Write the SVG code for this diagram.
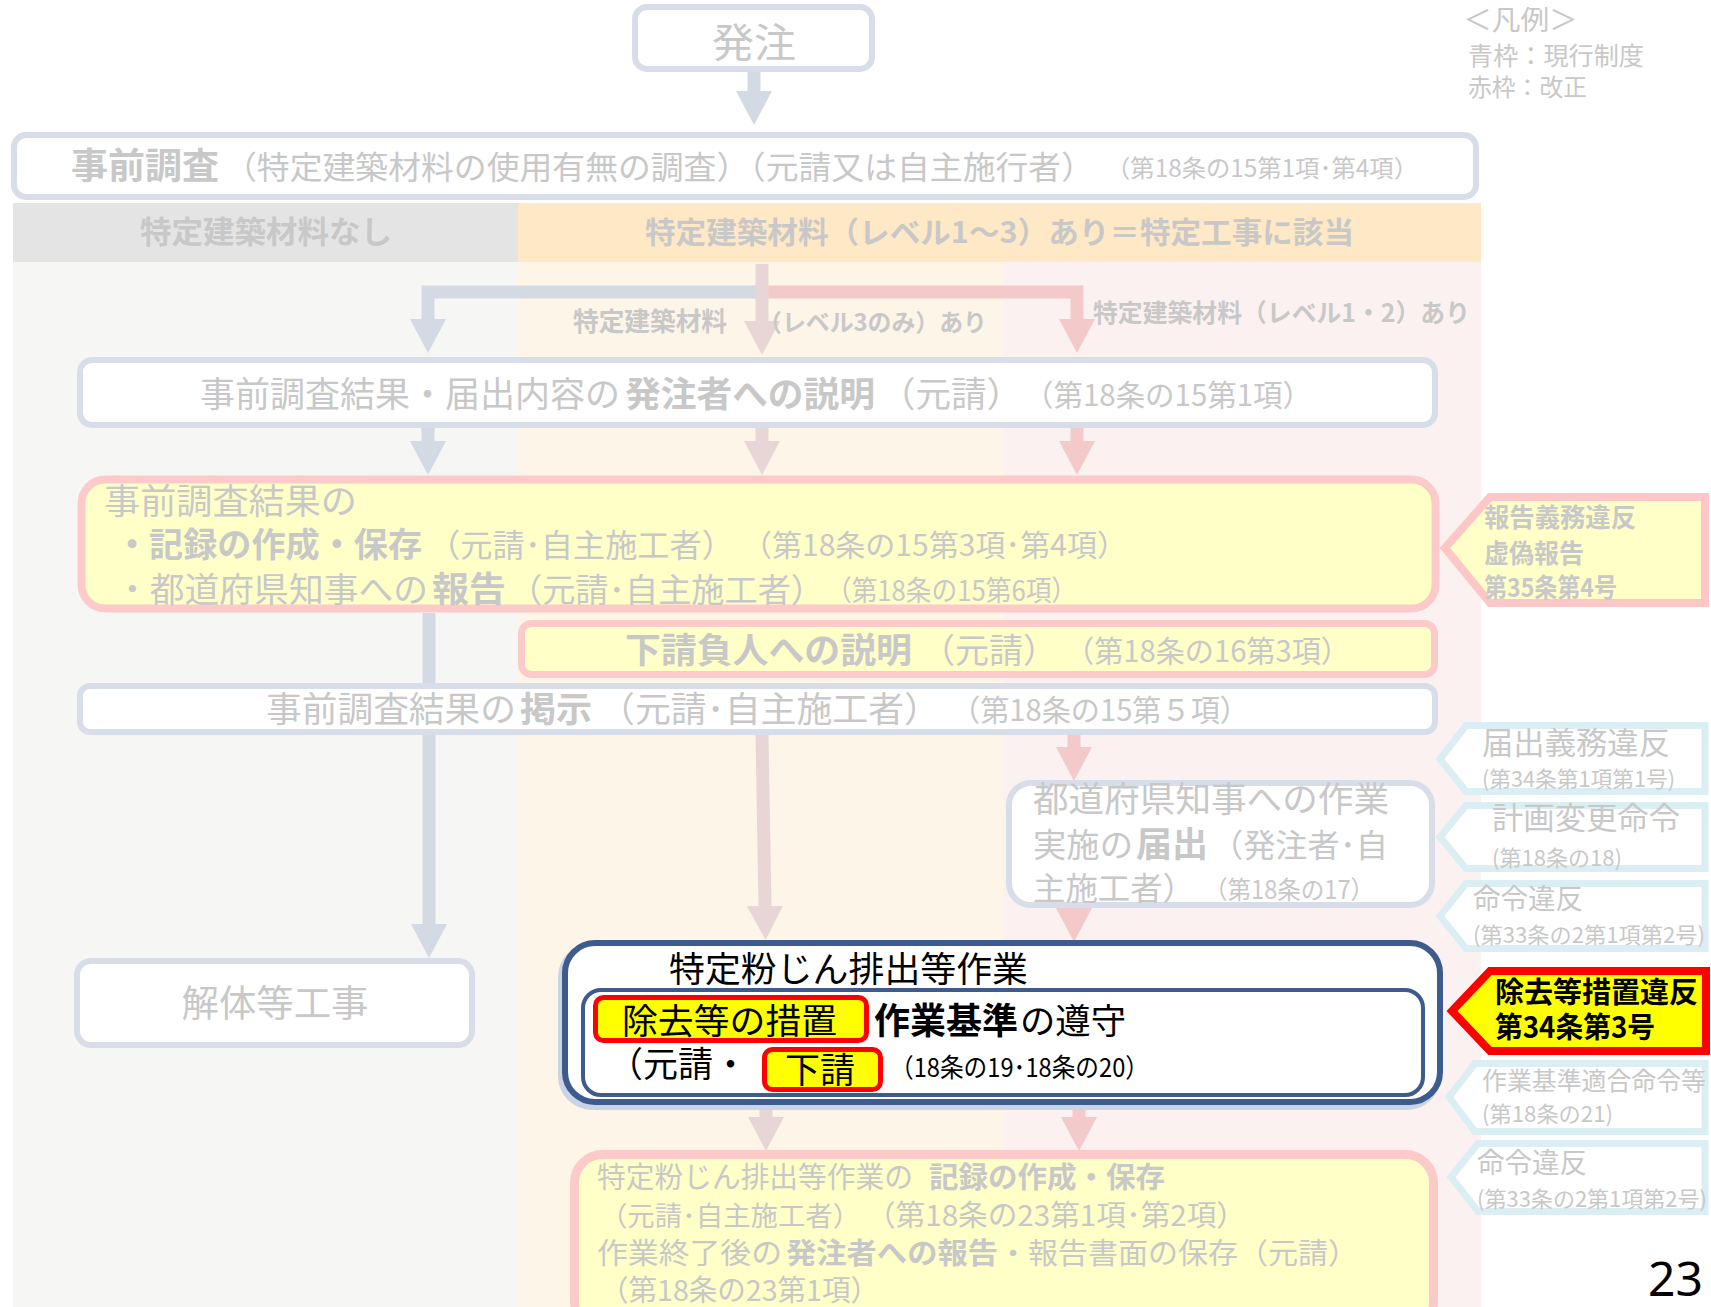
<svg xmlns="http://www.w3.org/2000/svg" width="1711" height="1307" viewBox="0 0 1711 1307">
<defs>
<style>
.t{font-family:"Noto Sans CJK JP","Noto Sans CJK SC",sans-serif;fill:#c8c8c8}
.b{font-weight:700}
.k{fill:#000}
.bx{fill:#fff;stroke:#d7dee9;stroke-width:6}
.rx{fill:#ffffc8;stroke:#fdcaca;stroke-width:8}
.cb{fill:#fff;stroke:#dbeef4;stroke-width:7}
.ab{fill:none;stroke:#d3dae4;stroke-width:13}
.ap{fill:none;stroke:#f4c9c9;stroke-width:13}
.ag{fill:none;stroke:#e8d6d6;stroke-width:13}
</style>
<marker id="mb" markerUnits="userSpaceOnUse" markerWidth="34" markerHeight="36" viewBox="0 0 34 36" refX="0" refY="18" orient="auto"><path d="M0,0L34,18L0,36z" fill="#d3dae4"/></marker>
<marker id="mp" markerUnits="userSpaceOnUse" markerWidth="34" markerHeight="36" viewBox="0 0 34 36" refX="0" refY="18" orient="auto"><path d="M0,0L34,18L0,36z" fill="#f4c9c9"/></marker>
<marker id="mg" markerUnits="userSpaceOnUse" markerWidth="34" markerHeight="36" viewBox="0 0 34 36" refX="0" refY="18" orient="auto"><path d="M0,0L34,18L0,36z" fill="#e8d6d6"/></marker>
</defs>

<g id="background">
<rect x="0" y="0" width="1711" height="1307" fill="#fff"/>
<rect x="13" y="262" width="505" height="1045" fill="#f6f6f4"/>
<rect x="518" y="262" width="486" height="1045" fill="#fdf5e8"/>
<rect x="1004" y="262" width="477" height="1045" fill="#fcf1f1"/>
<rect x="13" y="203" width="505" height="59" fill="#e4e4e4"/>
<rect x="518" y="203" width="963" height="59" fill="#fee8c6"/>
<text class="t b" x="140" y="243" font-size="31" fill="#cccccc" textLength="252" lengthAdjust="spacingAndGlyphs">特定建築材料なし</text>
<text class="t b" x="645" y="243" font-size="30" textLength="709" lengthAdjust="spacingAndGlyphs">特定建築材料（レベル1～3）あり＝特定工事に該当</text>
</g>

<g id="legend">
<text class="t" x="1463" y="30" font-size="27" textLength="115" lengthAdjust="spacingAndGlyphs">＜凡例＞</text>
<text class="t" x="1468" y="65" font-size="25" textLength="176" lengthAdjust="spacingAndGlyphs">青枠：現行制度</text>
<text class="t" x="1468" y="96" font-size="24" textLength="119" lengthAdjust="spacingAndGlyphs">赤枠：改正</text>
</g>

<g id="connectors">
<path class="ab" d="M754,72V91" marker-end="url(#mb)"/>
<path class="ab" d="M762,292H428V319" marker-end="url(#mb)"/>
<path class="ap" d="M762,292H1077V319" marker-end="url(#mp)"/>
<path class="ag" d="M762,264V321" marker-end="url(#mg)"/>
<path class="ab" d="M428,428V441" marker-end="url(#mb)"/>
<path class="ag" d="M762,428V441" marker-end="url(#mg)"/>
<path class="ap" d="M1077,428V441" marker-end="url(#mp)"/>
<path class="ab" d="M429,613V924" marker-end="url(#mb)"/>
<path class="ag" d="M762,735L765,906" marker-end="url(#mg)"/>
<path class="ap" d="M1074,735V747" marker-end="url(#mp)"/>
<path class="ap" d="M1074,905V908" marker-end="url(#mp)"/>
<path class="ag" d="M766,1105V1117" marker-end="url(#mg)"/>
<path class="ap" d="M1079,1105V1117" marker-end="url(#mp)"/>
<text class="t b" x="573" y="331" font-size="26" textLength="154" lengthAdjust="spacingAndGlyphs">特定建築材料</text>
<text class="t b" x="758" y="331" font-size="24" textLength="229" lengthAdjust="spacingAndGlyphs">（レベル3のみ）あり</text>
<text class="t b" x="1093" y="322" font-size="25" textLength="377" lengthAdjust="spacingAndGlyphs">特定建築材料（レベル1・2）あり</text>
</g>

<g id="node-hatchu">
<rect class="bx" x="635" y="7" width="237" height="62" rx="12"/>
<text class="t" x="754" y="57" font-size="40" text-anchor="middle" textLength="84" lengthAdjust="spacingAndGlyphs">発注</text>
</g>

<g id="node-jizen-chosa">
<rect class="bx" x="14" y="135" width="1462" height="62" rx="12"/>
<text class="t b" x="71" y="179" font-size="36" textLength="148" lengthAdjust="spacingAndGlyphs">事前調査</text>
<text class="t" x="224" y="179" font-size="32" textLength="870" lengthAdjust="spacingAndGlyphs">（特定建築材料の使用有無の調査）（元請又は自主施行者）</text>
<text class="t" x="1106" y="177" font-size="24" textLength="312" lengthAdjust="spacingAndGlyphs">（第18条の15第1項･第4項）</text>
</g>

<g id="node-setsumei">
<rect class="bx" x="80" y="360" width="1355" height="65" rx="12"/>
<text class="t" x="200" y="407" font-size="35" textLength="420" lengthAdjust="spacingAndGlyphs">事前調査結果・届出内容の</text>
<text class="t b" x="625" y="407" font-size="35" textLength="250" lengthAdjust="spacingAndGlyphs">発注者への説明</text>
<text class="t" x="880" y="407" font-size="35" textLength="142" lengthAdjust="spacingAndGlyphs">（元請）</text>
<text class="t" x="1024" y="406" font-size="30" textLength="288" lengthAdjust="spacingAndGlyphs">（第18条の15第1項）</text>
</g>

<g id="node-kiroku">
<rect class="rx" x="81.5" y="479.5" width="1354" height="129" rx="24"/>
<text class="t" x="104" y="514" font-size="35" textLength="253" lengthAdjust="spacingAndGlyphs">事前調査結果の</text>
<text class="t b" x="115" y="557" font-size="34" textLength="307" lengthAdjust="spacingAndGlyphs">・記録の作成・保存</text>
<text class="t" x="428" y="557" font-size="32" textLength="306" lengthAdjust="spacingAndGlyphs">（元請･自主施工者）</text>
<text class="t" x="742" y="556" font-size="30" textLength="385" lengthAdjust="spacingAndGlyphs">（第18条の15第3項･第4項）</text>
<text class="t" x="115" y="602" font-size="34" textLength="313" lengthAdjust="spacingAndGlyphs">・都道府県知事への</text>
<text class="t b" x="432" y="602" font-size="35" textLength="74" lengthAdjust="spacingAndGlyphs">報告</text>
<text class="t" x="509" y="602" font-size="33" textLength="315" lengthAdjust="spacingAndGlyphs">（元請･自主施工者）</text>
<text class="t" x="826" y="601" font-size="28" textLength="251" lengthAdjust="spacingAndGlyphs">（第18条の15第6項）</text>
</g>

<g id="callout-hokoku">
<polygon points="1445,548 1490,497 1705,497 1705,603 1490,603" fill="#ffffc8" stroke="#fdc7c7" stroke-width="8"/>
<text class="t b" x="1484" y="527" font-size="26" textLength="152" lengthAdjust="spacingAndGlyphs">報告義務違反</text>
<text class="t b" x="1484" y="563" font-size="26" textLength="100" lengthAdjust="spacingAndGlyphs">虚偽報告</text>
<text class="t b" x="1484" y="597" font-size="26" textLength="133" lengthAdjust="spacingAndGlyphs">第35条第4号</text>
</g>

<g id="node-shitauke">
<rect class="rx" x="521.5" y="623.5" width="913" height="51" rx="10" style="stroke-width:7"/>
<text class="t b" x="625" y="663" font-size="35" textLength="287" lengthAdjust="spacingAndGlyphs">下請負人への説明</text>
<text class="t" x="921" y="663" font-size="34" textLength="136" lengthAdjust="spacingAndGlyphs">（元請）</text>
<text class="t" x="1065" y="662" font-size="30" textLength="285" lengthAdjust="spacingAndGlyphs">（第18条の16第3項）</text>
</g>

<g id="node-keiji">
<rect class="bx" x="80" y="686" width="1355" height="46" rx="10"/>
<text class="t" x="266" y="722" font-size="35" textLength="250" lengthAdjust="spacingAndGlyphs">事前調査結果の</text>
<text class="t b" x="520" y="722" font-size="35" textLength="72" lengthAdjust="spacingAndGlyphs">掲示</text>
<text class="t" x="599" y="722" font-size="35" textLength="341" lengthAdjust="spacingAndGlyphs">（元請･自主施工者）</text>
<text class="t" x="951" y="721" font-size="30" textLength="298" lengthAdjust="spacingAndGlyphs">（第18条の15第５項）</text>
</g>

<g id="node-todokede">
<rect class="bx" x="1009" y="783" width="423" height="122" rx="22"/>
<text class="t" x="1033" y="812" font-size="35" textLength="356" lengthAdjust="spacingAndGlyphs">都道府県知事への作業</text>
<text class="t" x="1033" y="857" font-size="33" textLength="100" lengthAdjust="spacingAndGlyphs">実施の</text>
<text class="t b" x="1136" y="857" font-size="35" textLength="72" lengthAdjust="spacingAndGlyphs">届出</text>
<text class="t" x="1211" y="857" font-size="32" textLength="177" lengthAdjust="spacingAndGlyphs">（発注者･自</text>
<text class="t" x="1033" y="900" font-size="32" textLength="162" lengthAdjust="spacingAndGlyphs">主施工者）</text>
<text class="t" x="1204" y="899" font-size="25" textLength="170" lengthAdjust="spacingAndGlyphs">（第18条の17）</text>
</g>

<g id="node-kaitai">
<rect class="bx" x="77" y="961" width="395" height="84" rx="14"/>
<text class="t" x="275" y="1017" font-size="37" text-anchor="middle" textLength="187" lengthAdjust="spacingAndGlyphs">解体等工事</text>
</g>

<g id="node-funjin">
<rect x="562" y="947" width="875" height="159" rx="30" fill="none" stroke="#c9d5e6" stroke-width="8"/>
<rect x="565" y="943" width="875" height="159" rx="30" fill="#fff" stroke="#3d5b8c" stroke-width="6"/>
<text class="t k" x="669" y="982" font-size="35" textLength="359" lengthAdjust="spacingAndGlyphs">特定粉じん排出等作業</text>
<rect x="583" y="990" width="840" height="105" rx="18" fill="#fff" stroke="#3d5b8c" stroke-width="4"/>
<rect x="595.5" y="997.5" width="271" height="43" rx="8" fill="#ffff00" stroke="#ff0000" stroke-width="5"/>
<text class="t k" x="622" y="1034" font-size="35" textLength="215" lengthAdjust="spacingAndGlyphs">除去等の措置</text>
<text class="t k b" x="874" y="1034" font-size="36" textLength="144" lengthAdjust="spacingAndGlyphs">作業基準</text>
<text class="t k" x="1020" y="1034" font-size="35" textLength="106" lengthAdjust="spacingAndGlyphs">の遵守</text>
<text class="t k" x="608" y="1077" font-size="35" textLength="140" lengthAdjust="spacingAndGlyphs">（元請・</text>
<rect x="764.5" y="1049.5" width="116" height="40" rx="8" fill="#ffff00" stroke="#ff0000" stroke-width="5"/>
<text class="t k" x="785" y="1083" font-size="35" textLength="70" lengthAdjust="spacingAndGlyphs">下請</text>
<text class="t k" x="890" y="1077" font-size="26" textLength="259" lengthAdjust="spacingAndGlyphs">（18条の19･18条の20）</text>
</g>

<g id="callout-todokede-ihan">
<polygon class="cb" points="1440,759 1466,725.5 1705,725.5 1705,791.5 1466,791.5"/>
<text class="t" x="1482" y="754" font-size="31" textLength="188" lengthAdjust="spacingAndGlyphs">届出義務違反</text>
<text class="t" x="1482" y="787" font-size="22" textLength="193" lengthAdjust="spacingAndGlyphs">(第34条第1項第1号)</text>
</g>
<g id="callout-keikaku">
<polygon class="cb" points="1440,837 1466,805.5 1705,805.5 1705,868.5 1466,868.5"/>
<text class="t" x="1492" y="829" font-size="31" textLength="188" lengthAdjust="spacingAndGlyphs">計画変更命令</text>
<text class="t" x="1492" y="866" font-size="22" textLength="130" lengthAdjust="spacingAndGlyphs">(第18条の18)</text>
</g>
<g id="callout-meirei1">
<polygon class="cb" points="1440,916 1466,883.5 1705,883.5 1705,948.5 1466,948.5"/>
<text class="t" x="1473" y="909" font-size="28" textLength="110" lengthAdjust="spacingAndGlyphs">命令違反</text>
<text class="t" x="1473" y="943" font-size="22" textLength="232" lengthAdjust="spacingAndGlyphs">(第33条の2第1項第2号)</text>
</g>
<g id="callout-jokyo">
<polygon points="1452,1011 1490,971 1706,971 1706,1051 1490,1051" fill="#ffff00" stroke="#ff0000" stroke-width="8"/>
<text class="t k b" x="1495" y="1003" font-size="29" textLength="203" lengthAdjust="spacingAndGlyphs">除去等措置違反</text>
<text class="t k b" x="1495" y="1038" font-size="29" textLength="160" lengthAdjust="spacingAndGlyphs">第34条第3号</text>
</g>
<g id="callout-sagyokijun">
<polygon class="cb" points="1449,1097 1475,1063.5 1705,1063.5 1705,1131.5 1475,1131.5"/>
<text class="t" x="1482" y="1090" font-size="25" textLength="224" lengthAdjust="spacingAndGlyphs">作業基準適合命令等</text>
<text class="t" x="1482" y="1122" font-size="22" textLength="131" lengthAdjust="spacingAndGlyphs">(第18条の21)</text>
</g>
<g id="callout-meirei2">
<polygon class="cb" points="1451,1177 1478,1143.5 1705,1143.5 1705,1211.5 1478,1211.5"/>
<text class="t" x="1477" y="1173" font-size="28" textLength="110" lengthAdjust="spacingAndGlyphs">命令違反</text>
<text class="t" x="1477" y="1207" font-size="22" textLength="230" lengthAdjust="spacingAndGlyphs">(第33条の2第1項第2号)</text>
</g>

<g id="node-kiroku2">
<rect class="rx" x="574.5" y="1154.5" width="859" height="175" rx="28" style="stroke-width:9"/>
<text class="t" x="597" y="1188" font-size="29" textLength="316" lengthAdjust="spacingAndGlyphs">特定粉じん排出等作業の</text>
<text class="t b" x="929" y="1188" font-size="29" textLength="236" lengthAdjust="spacingAndGlyphs">記録の作成・保存</text>
<text class="t" x="600" y="1226" font-size="27" textLength="260" lengthAdjust="spacingAndGlyphs">（元請･自主施工者）</text>
<text class="t" x="866" y="1226" font-size="29" textLength="380" lengthAdjust="spacingAndGlyphs">（第18条の23第1項･第2項）</text>
<text class="t" x="597" y="1264" font-size="29" textLength="185" lengthAdjust="spacingAndGlyphs">作業終了後の</text>
<text class="t b" x="786" y="1264" font-size="29" textLength="212" lengthAdjust="spacingAndGlyphs">発注者への報告</text>
<text class="t" x="998" y="1264" font-size="29" textLength="360" lengthAdjust="spacingAndGlyphs">・報告書面の保存（元請）</text>
<text class="t" x="600" y="1301" font-size="29" textLength="279" lengthAdjust="spacingAndGlyphs">（第18条の23第1項）</text>
</g>

<g id="page-number">
<text x="1648" y="1296" font-family="'Noto Sans','DejaVu Sans',sans-serif" font-size="48" fill="#000">23</text>
</g>
</svg>
